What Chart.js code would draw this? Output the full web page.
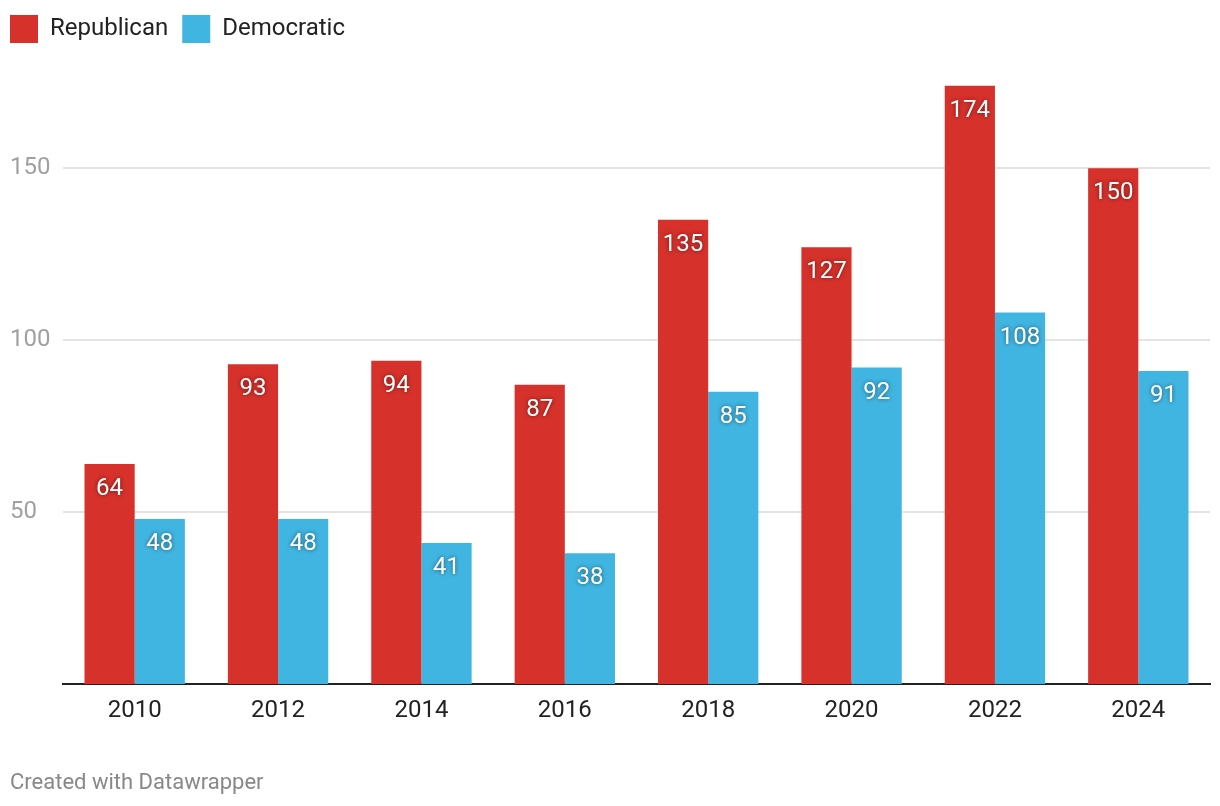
<!DOCTYPE html>
<html>
<head>
<meta charset="utf-8">
<script src="https://cdn.jsdelivr.net/npm/chart.js@4.4.1/dist/chart.umd.min.js"></script>
<style>
  html, body { margin: 0; padding: 0; background: #fff; }
  #wrap { position: relative; width: 1220px; height: 806px; }
</style>
</head>
<body>
<div id="wrap"><canvas id="chart"></canvas></div>
<script>
const years = ["2010", "2012", "2014", "2016", "2018", "2020", "2022", "2024"];
const republican = [64, 93, 94, 87, 135, 127, 174, 150];
const democratic = [48, 48, 41, 38, 85, 92, 108, 91];
const yTicks = [50, 100, 150];

const RED = "#d6322b";
const BLUE = "#41b5e2";
const FONT = "Roboto";

// fixes legend height so the plot area starts where the original does,
// then nudges the legend so the first box sits at x=10
const legendBox = {
  id: "legendBox",
  beforeInit(chart) {
    const orig = chart.legend.fit;
    chart.legend.fit = function () {
      orig.call(this);
      this.height = 65;
    };
  },
  afterLayout(chart) {
    chart.legend.left = -4;
    chart.legend.top = 1;
  },
};

// white value labels inside the top of each bar
const barLabels = {
  id: "barLabels",
  afterDatasetsDraw(chart) {
    const ctx = chart.ctx;
    ctx.save();
    ctx.font = "24px " + FONT;
    ctx.fillStyle = "#fff";
    ctx.textAlign = "center";
    ctx.textBaseline = "middle";
    ctx.shadowColor = "rgba(0,0,0,0.55)";
    ctx.shadowBlur = 4;
    chart.data.datasets.forEach((ds, i) => {
      chart.getDatasetMeta(i).data.forEach((bar, j) => {
        ctx.fillText(String(ds.data[j]), bar.x, bar.y + 25);
      });
    });
    ctx.restore();
  },
};

// footer credit
const credit = {
  id: "credit",
  afterDraw(chart) {
    const ctx = chart.ctx;
    ctx.save();
    ctx.font = "22px " + FONT;
    ctx.fillStyle = "#888";
    ctx.textAlign = "left";
    ctx.textBaseline = "middle";
    ctx.fillText("Created with Datawrapper", 10, 783);
    ctx.restore();
  },
};

new Chart(document.getElementById("chart"), {
  type: "bar",
  data: {
    labels: years,
    datasets: [
      { label: "Republican", data: republican, backgroundColor: RED },
      { label: "Democratic", data: democratic, backgroundColor: BLUE },
    ],
  },
  options: {
    responsive: true,
    maintainAspectRatio: false,
    animation: false,
    devicePixelRatio: 1,
    layout: { padding: { left: 10, right: 10, top: 0, bottom: 0 } },
    datasets: {
      bar: { categoryPercentage: 0.7, barPercentage: 1.0, borderWidth: 0 },
    },
    plugins: {
      tooltip: { enabled: false },
      legend: {
        position: "top",
        align: "start",
        labels: {
          boxWidth: 28,
          boxHeight: 28,
          padding: 14,
          color: "#222",
          font: { family: FONT, size: 24 },
        },
      },
    },
    scales: {
      x: {
        grid: { display: false, drawTicks: false },
        border: { display: true, color: "#222", width: 2 },
        ticks: {
          color: "#222",
          padding: 13,
          font: { family: FONT, size: 24 },
        },
        afterFit(scale) {
          scale.height = 122;
        },
      },
      y: {
        min: 0,
        max: 180,
        afterBuildTicks(scale) {
          scale.ticks = yTicks.map((v) => ({ value: v }));
        },
        grid: { color: "#e3e3e3", lineWidth: 2, drawTicks: false },
        border: { display: false },
        ticks: {
          color: "#a0a0a0",
          crossAlign: "far",
          padding: 0,
          font: { family: FONT, size: 24 },
        },
        afterFit(scale) {
          scale.width = 53;
        },
      },
    },
  },
  plugins: [legendBox, barLabels, credit],
});
</script>
</body>
</html>
